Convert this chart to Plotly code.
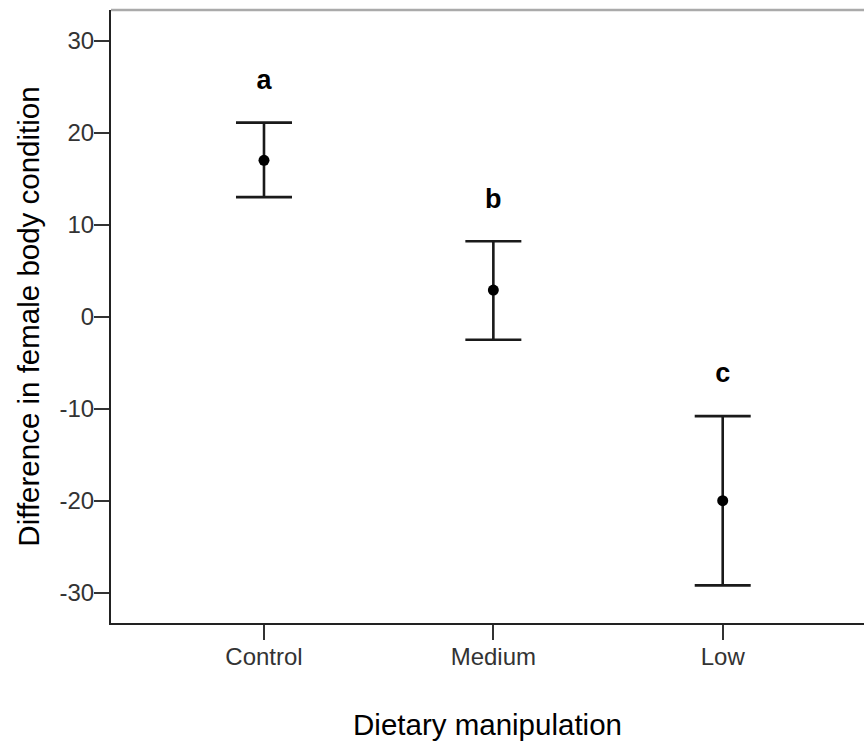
import plotly.graph_objects as go

# Group means and 95% CI bounds of the change in female body condition
groups = ["Control", "Medium", "Low"]
means = [17.0, 2.9, -20.0]
ci_upper = [21.1, 8.2, -10.8]
ci_lower = [13.0, -2.5, -29.2]
letters = ["a", "b", "c"]
y_ticks = [-30, -20, -10, 0, 10, 20, 30]

err_plus = [u - m for u, m in zip(ci_upper, means)]
err_minus = [m - l for m, l in zip(means, ci_lower)]
letter_y = [u + 4.4 for u in ci_upper]

FONT = "Arial, Liberation Sans, sans-serif"

fig = go.Figure()

fig.add_trace(go.Scatter(
    x=[0, 1, 2],
    y=means,
    mode="markers",
    marker=dict(color="black", size=11),
    error_y=dict(
        type="data",
        symmetric=False,
        array=err_plus,
        arrayminus=err_minus,
        color="#1a1a1a",
        thickness=2.6,
        width=28,
    ),
    showlegend=False,
    hoverinfo="skip",
))

# Significance letters above each interval
fig.add_trace(go.Scatter(
    x=[0, 1, 2],
    y=letter_y,
    mode="text",
    text=[f"<b>{t}</b>" for t in letters],
    textposition="middle center",
    textfont=dict(family=FONT, size=27, color="black"),
    showlegend=False,
    hoverinfo="skip",
))

fig.update_layout(
    width=864,
    height=744,
    margin=dict(l=111, r=0, t=10, b=121),
    paper_bgcolor="white",
    plot_bgcolor="white",
    font=dict(family=FONT, color="#333333"),
    xaxis=dict(
        range=[-0.667, 2.616],
        tickmode="array",
        tickvals=[0, 1, 2],
        ticktext=groups,
        showgrid=False,
        zeroline=False,
        showline=True,
        linecolor="#222222",
        linewidth=2,
        ticks="outside",
        ticklen=15,
        tickwidth=2,
        tickcolor="#333333",
        ticklabelstandoff=-4,
        tickfont=dict(family=FONT, size=24, color="#333333"),
        title=dict(text="Dietary manipulation",
                   font=dict(family=FONT, size=29.5, color="black"),
                   standoff=46),
    ),
    yaxis=dict(
        range=[-33.29, 33.34],
        tickmode="array",
        tickvals=y_ticks,
        ticktext=[str(v) for v in y_ticks],
        showgrid=False,
        zeroline=False,
        showline=True,
        linecolor="#222222",
        linewidth=2,
        ticks="outside",
        ticklen=15,
        tickwidth=2,
        tickcolor="#333333",
        ticklabelstandoff=-5,
        tickfont=dict(family=FONT, size=24, color="#333333"),
        title=dict(text="Difference in female body condition",
                   font=dict(family=FONT, size=29.5, color="black"),
                   standoff=11),
    ),
    shapes=[dict(
        type="line", xref="paper", yref="paper",
        x0=0, x1=1, y0=1, y1=1,
        line=dict(color="#aaaaaa", width=2.5),
    )],
)

fig.write_html("out.html")
